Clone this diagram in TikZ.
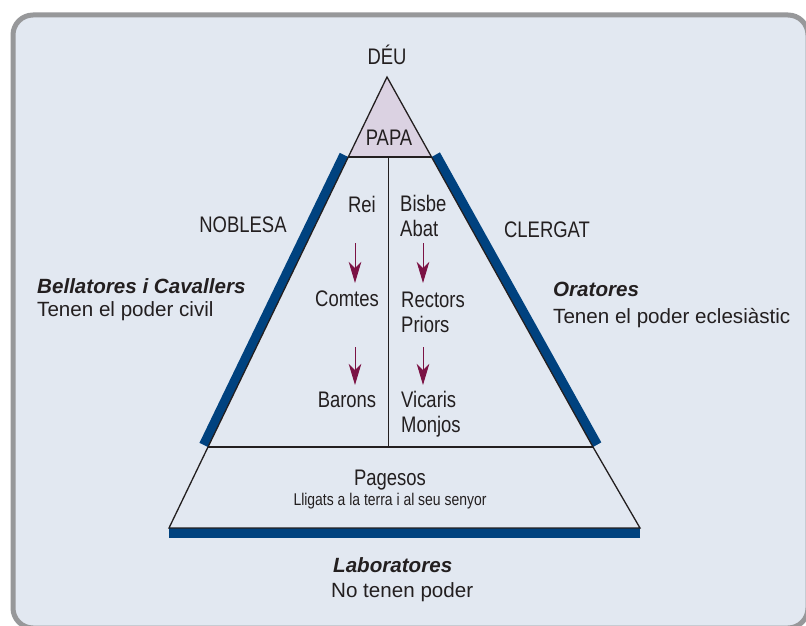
\documentclass[tikz,border=0pt]{standalone}
\usepackage{fontspec}
\setmainfont{Liberation Sans}
\newfontfamily\narrowfont[FakeStretch=0.82]{Liberation Sans}
\usetikzlibrary{arrows.meta,calc}
\definecolor{bgc}{HTML}{E2E8F1}
\definecolor{framec}{HTML}{97989A}
\definecolor{barc}{HTML}{00427F}
\definecolor{papac}{HTML}{DBD2E2}
\definecolor{arrc}{HTML}{7B1244}
\definecolor{txt}{HTML}{231F20}
\begin{document}
\begin{tikzpicture}[x=1pt,y=-1pt,
  inner/.style={font=\narrowfont\fontsize{22.5}{26}\selectfont, text=txt, inner sep=0pt},
  outer/.style={font=\fontsize{20.6}{25}\selectfont, text=txt, inner sep=0pt},
  outerb/.style={font=\fontsize{20.6}{25}\selectfont\bfseries\itshape, text=txt, inner sep=0pt},
  small/.style={font=\narrowfont\fontsize{17}{20}\selectfont, text=txt, inner sep=0pt},
  edge/.style={draw=txt, line width=1.3pt, line join=miter},
  bar/.style={draw=barc, line width=9.5pt},
  down/.style={draw=arrc, line width=1pt, -{Stealth[length=21pt,width=12.5pt,inset=6pt]}}
]
\useasboundingbox (0,0) rectangle (806,626);
\clip (0,0) rectangle (806,626);
\fill[white] (0,0) rectangle (806,626);
\draw[draw=framec, fill=bgc, line width=5pt, rounded corners=20pt] (13,15) rectangle (808,628);

% pyramid points
\coordinate (A) at (387,77);
\coordinate (PL) at (348.3,157);
\coordinate (PR) at (431.6,157);
\coordinate (BL) at (208,447);
\coordinate (BR) at (593,447);
\coordinate (QL) at (169,528);
\coordinate (QR) at (640,528);
\coordinate (D1) at (388.5,157);
\coordinate (D2) at (388.5,447);

% papa fill
\fill[papac] (A) -- (PL) -- (PR) -- cycle;

% blue bars
\draw[bar] ($(PL)+(-4.28,-2.07)$) -- ($(BL)+(-4.28,-2.07)$);
\draw[bar] ($(PR)+(4.15,-2.31)$) -- ($(BR)+(4.15,-2.31)$);
\draw[bar] ($(QL)+(0,4.75)$) -- ($(QR)+(0,4.75)$);

% outlines
\draw[edge] (A) -- (BL) -- (QL) -- (QR) -- (BR) -- cycle;
\draw[edge] (BL) -- (BR);
\draw[edge] (PL) -- (PR);
\draw[edge] (D1) -- (D2);

% texts
\node[inner, anchor=base] (deu) at (387,64) {DÉU};
\node[inner, anchor=base] (papa) at (389,145) {PAPA};
\node[inner, anchor=base] (noblesa) at (243,232) {NOBLESA};
\node[inner, anchor=base] (clergat) at (547,237) {CLERGAT};
\node[inner, anchor=base] (rei) at (362,212) {Rei};
\node[inner, anchor=base west] (bisbe) at (400,211) {Bisbe};
\node[inner, anchor=base west] (abat) at (400,236) {Abat};
\node[inner, anchor=base] (comtes) at (347,306) {Comtes};
\node[inner, anchor=base west] (rectors) at (401,307) {Rectors};
\node[inner, anchor=base west] (priors) at (401,332) {Priors};
\node[inner, anchor=base] (barons) at (347,407) {Barons};
\node[inner, anchor=base west] (vicaris) at (401,407) {Vicaris};
\node[inner, anchor=base west] (monjos) at (401,432) {Monjos};
\node[inner, anchor=base] (pagesos) at (390,485) {Pagesos};
\node[small, anchor=base] (lligats) at (390,505) {Lligats a la terra i al seu senyor};
\node[outerb, anchor=base west] (bell) at (37,293) {Bellatores i Cavallers};
\node[outer, anchor=base west] (civil) at (37,316) {Tenen el poder civil};
\node[outerb, anchor=base west] (orat) at (553,296) {Oratores};
\node[outer, anchor=base west] (ecl) at (553,323) {Tenen el poder eclesiàstic};
\node[outerb, anchor=base west] (labor) at (333,572) {Laboratores};
\node[outer, anchor=base west] (nopod) at (331,597) {No tenen poder};

% arrows
\coordinate (a1s) at (355,243); \coordinate (a1e) at (355,283);
\coordinate (a2s) at (423,243); \coordinate (a2e) at (423,283);
\coordinate (a3s) at (355,347); \coordinate (a3e) at (355,385);
\coordinate (a4s) at (423,347); \coordinate (a4e) at (423,385);
\draw[down] (a1s) -- (a1e);
\draw[down] (a2s) -- (a2e);
\draw[down] (a3s) -- (a3e);
\draw[down] (a4s) -- (a4e);
\end{tikzpicture}
\end{document}
